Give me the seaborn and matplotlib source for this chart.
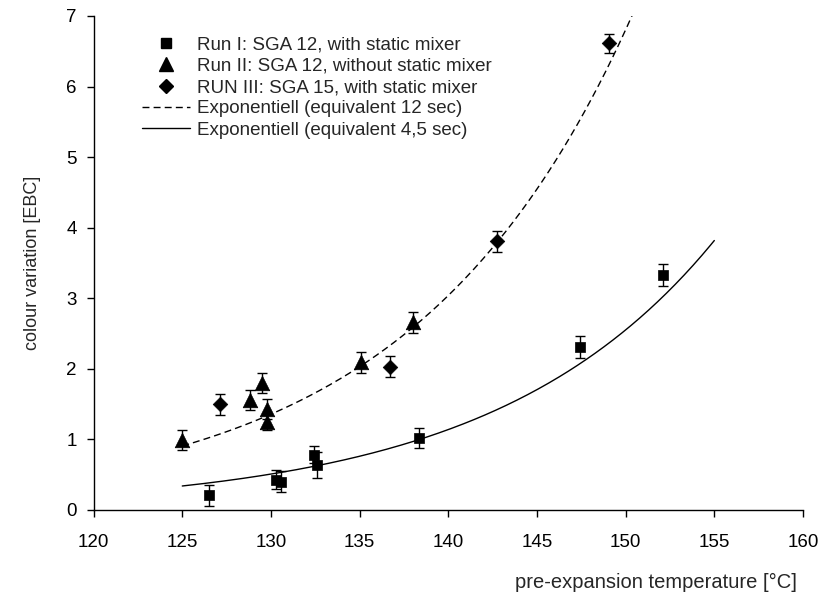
import numpy as np
import pandas as pd
import matplotlib
matplotlib.use('Agg')
import matplotlib.pyplot as plt
import seaborn as sns
from matplotlib.lines import Line2D

# Run I: SGA 12, with static mixer
run1_temp = [126.5, 130.3, 130.55, 132.4, 132.6, 138.35, 147.4, 152.1]
run1_col = [0.21, 0.43, 0.40, 0.78, 0.64, 1.02, 2.31, 3.33]
run1_err = [0.15, 0.13, 0.15, 0.12, 0.18, 0.14, 0.15, 0.15]

# Run II: SGA 12, without static mixer
run2_temp = [125.0, 128.8, 129.5, 129.75, 129.75, 135.05, 138.0]
run2_col = [0.99, 1.56, 1.80, 1.43, 1.25, 2.09, 2.66]
run2_err = [0.14, 0.14, 0.14, 0.14, 0.12, 0.15, 0.15]

# RUN III: SGA 15, with static mixer
run3_temp = [127.1, 136.7, 142.75, 149.05]
run3_col = [1.50, 2.03, 3.81, 6.61]
run3_err = [0.15, 0.15, 0.15, 0.14]

# exponential trend lines: colour = c * t * exp(k * (T - 125))
trend_time = [12, 4.5]
trend_c = 0.0756
trend_k = 0.0806
trend_labels = ['Exponentiell (equivalent 12 sec)', 'Exponentiell (equivalent 4,5 sec)']

run_labels = ['Run I: SGA 12, with static mixer',
              'Run II: SGA 12, without static mixer',
              'RUN III: SGA 15, with static mixer']

sns.set_style('ticks')
plt.rcParams['font.family'] = ['Liberation Sans', 'DejaVu Sans']
fs_tick = 13.5
fs_leg = 13.5
fs_xlab = 14.5
fs_ylab = 13

df = pd.concat([
    pd.DataFrame({'T': run1_temp, 'EBC': run1_col, 'err': run1_err, 'run': run_labels[0]}),
    pd.DataFrame({'T': run2_temp, 'EBC': run2_col, 'err': run2_err, 'run': run_labels[1]}),
    pd.DataFrame({'T': run3_temp, 'EBC': run3_col, 'err': run3_err, 'run': run_labels[2]}),
])

T_grid = np.linspace(125, 155, 300)
curves = pd.concat([
    pd.DataFrame({'T': T_grid,
                  'EBC': trend_c * t * np.exp(trend_k * (T_grid - 125)),
                  'fit': lab})
    for t, lab in zip(trend_time, trend_labels)
])

fig = plt.figure(figsize=(8.24, 5.96), dpi=100)
ax = fig.add_axes([0.1136, 0.1443, 0.8609, 0.8289])

sns.lineplot(data=curves, x='T', y='EBC', style='fit',
             dashes={trend_labels[0]: (5, 3), trend_labels[1]: ''},
             color='black', linewidth=1, ax=ax, legend=False)

ax.errorbar(df['T'], df['EBC'], yerr=df['err'], fmt='none', ecolor='black',
            elinewidth=1, capsize=3.5, capthick=1, zorder=3)

markers = {run_labels[0]: 's', run_labels[1]: '^', run_labels[2]: 'D'}
sizes = {run_labels[0]: 55, run_labels[1]: 110, run_labels[2]: 55}
for run in run_labels:
    sub = df[df['run'] == run]
    sns.scatterplot(data=sub, x='T', y='EBC', marker=markers[run], s=sizes[run],
                    color='black', edgecolor='black', linewidth=0.5, ax=ax,
                    zorder=4, legend=False)

ax.set_xlim(120, 160)
ax.set_ylim(0, 7)
ax.set_xticks(np.arange(120, 161, 5))
ax.set_yticks(np.arange(0, 8, 1))
ax.tick_params(labelsize=fs_tick, length=5, width=1, colors='black')
ax.tick_params(axis='x', pad=12)
ax.tick_params(axis='y', pad=7)
for s in ['top', 'right']:
    ax.spines[s].set_visible(False)
for s in ['left', 'bottom']:
    ax.spines[s].set_color('black')
    ax.spines[s].set_linewidth(1)

ax.set_ylabel('colour variation [EBC]', fontsize=fs_ylab)
ax.yaxis.set_label_coords(-0.074, 0.5)
ax.set_xlabel('pre-expansion temperature [°C]', fontsize=fs_xlab, ha='right')
ax.xaxis.set_label_coords(0.9915, -0.128)

handles = [
    Line2D([], [], linestyle='none', marker='s', markersize=7, color='black'),
    Line2D([], [], linestyle='none', marker='^', markersize=10, color='black'),
    Line2D([], [], linestyle='none', marker='D', markersize=7, color='black'),
    Line2D([], [], linestyle=(0, (5, 3)), linewidth=1, color='black'),
    Line2D([], [], linestyle='-', linewidth=1, color='black'),
]
ax.legend(handles, run_labels + trend_labels, loc='upper left',
          bbox_to_anchor=(0.05, 0.985), frameon=False, fontsize=fs_leg,
          handlelength=2.55, handletextpad=0.37, labelspacing=0.22,
          borderaxespad=0.3)

fig.savefig('out.png', dpi=100)
